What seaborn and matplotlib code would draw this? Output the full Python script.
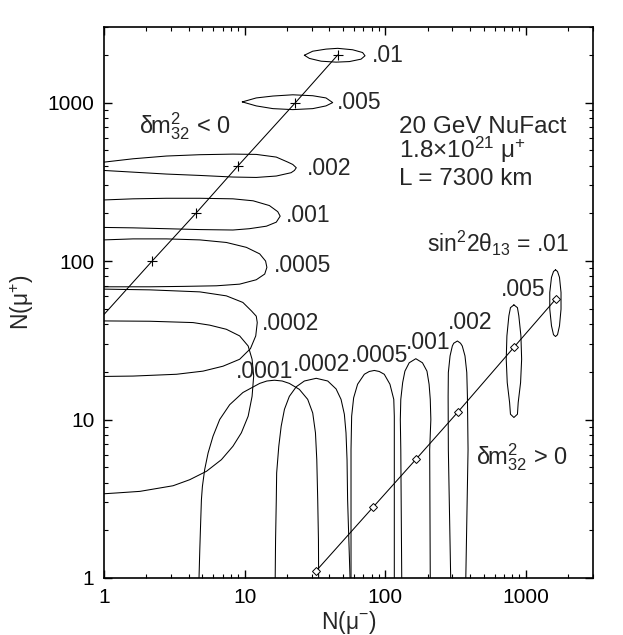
import matplotlib
matplotlib.use("Agg")
import matplotlib.pyplot as plt
import matplotlib.ticker as ticker
import seaborn as sns

# contours for dm^2_32 < 0, (N(mu-), N(mu+))
neg_01_x = [26.6, 30.5, 37.9, 45.9, 58.6, 69.0, 71.8, 67.3, 55.6, 44.7, 35.0, 28.9, 26.6]
neg_01_y = [1990, 2110, 2175, 2200, 2155, 2070, 1975, 1880, 1815, 1800, 1825, 1900, 1990]
neg_005_x = [9.63, 12.1, 15.9, 22.0, 30.5, 37.9, 42.3, 37.9, 30.5, 22.0, 15.9, 12.1, 9.63]
neg_005_y = [1010, 1070, 1100, 1120, 1105, 1070, 1000, 953, 916, 903, 916, 953, 1010]
neg_002_x = [1.0, 1.61, 2.78, 4.80, 8.26, 12.1, 16.8, 20.3, 22.0, 23.3, 22.6, 21.4, 16.8, 12.1, 8.26, 4.80, 2.78, 1.61, 1.0]
neg_002_y = [421, 442, 460, 469, 473, 471, 453, 421, 407, 388, 373, 361, 344, 337, 339, 347, 354, 364, 373]
neg_001_x = [1.0, 1.61, 2.78, 4.80, 8.26, 11.5, 15.0, 17.2, 17.9, 16.8, 14.3, 10.8, 8.26, 4.80, 2.78, 1.61, 1.0]
neg_001_y = [243, 247, 249, 249, 247, 240, 224, 205, 192, 176, 166, 160, 157, 158, 160, 162, 163]
neg_0005_x = [1.0, 1.61, 2.78, 4.80, 7.42, 10.3, 12.8, 14.1, 14.4, 13.9, 12.1, 9.22, 6.30, 3.65, 2.12, 1.0]
neg_0005_y = [136, 138, 138, 136, 131, 122, 111, 100, 91.2, 82.8, 76.2, 71.5, 69.8, 69.2, 68.8, 68.8]
neg_0002_x = [1.0, 2.12, 4.80, 7.42, 9.72, 11.2, 12.1, 12.3, 12.0, 11.0, 9.22, 7.02, 5.06, 3.28, 1.61, 1.0]
neg_0002_y = [66.5, 65.8, 63.9, 60.3, 54.8, 48.4, 44.9, 40.9, 33.7, 28.0, 24.0, 21.7, 20.2, 19.3, 18.8, 18.7]
neg_0001_x = [1.0, 2.12, 4.30, 5.65, 7.42, 9.22, 10.6, 11.3, 11.6, 11.3, 10.6, 9.48, 8.26, 6.84, 5.35, 4.07, 3.10, 1.80, 1.23, 1.0]
neg_0001_y = [41.9, 41.7, 40.9, 39.4, 37.1, 33.7, 29.1, 24.0, 18.8, 14.0, 10.5, 8.24, 6.78, 5.58, 4.71, 4.17, 3.82, 3.52, 3.44, 3.40]

# contours for dm^2_32 > 0
pos_0001_x = [4.74, 4.80, 4.85, 4.93, 5.01, 5.20, 5.50, 5.96, 6.65, 7.83, 9.72, 12.8, 14.4, 16.3,
              18.5, 20.8, 24.5, 28.1, 30.5, 31.9, 32.6, 33.1, 33.5, 33.6]
pos_0001_y = [1.0, 1.50, 2.01, 3.12, 3.78, 4.83, 6.15, 7.84, 10.0, 12.4, 14.8, 16.9, 17.5, 17.7,
              17.5, 16.9, 15.5, 13.4, 11.0, 8.24, 5.58, 3.12, 1.74, 1.0]
pos_0002_x = [16.5, 16.6, 16.8, 16.9, 17.5, 18.2, 19.2, 20.8, 23.3, 26.6, 32.3, 39.0, 44.7, 48.5,
              51.2, 52.6, 53.5, 54.0, 55.1, 56.2]
pos_0002_y = [1.0, 1.74, 3.12, 4.60, 6.78, 9.07, 11.6, 14.0, 16.1, 17.5, 18.2, 17.5, 15.6, 13.4,
              10.8, 8.24, 5.58, 3.12, 1.74, 1.0]
pos_0005_x = [57.1, 57.1, 57.7, 59.6, 63.6, 71.0, 77.0, 83.6, 90.6, 98.4, 108, 115, 116, 116, 116]
pos_0005_y = [1.0, 6.46, 10.5, 13.7, 16.7, 19.3, 20.1, 20.4, 20.1, 19.3, 16.7, 13.4, 10.5, 6.46, 1.0]
pos_001_x = [131, 129, 128, 129, 133, 138, 148, 165, 184, 198, 205, 209, 211, 207, 209]
pos_001_y = [1.0, 6.46, 10.0, 13.4, 17.1, 20.2, 22.8, 24.2, 22.8, 20.2, 16.7, 13.4, 10.0, 6.46, 1.0]
pos_002_x = [292, 281, 280, 281, 289, 300, 307, 326, 343, 353, 369, 380, 384, 388, 374]
pos_002_y = [1.0, 6.46, 14.0, 19.8, 25.2, 29.1, 30.3, 31.3, 30.3, 29.1, 25.2, 19.8, 14.0, 6.46, 1.0]
pos_005_x = [822, 871, 891, 922, 933, 917, 882, 871, 822, 777, 766, 737, 725, 733, 757, 777, 822]
pos_005_y = [52.9, 50.8, 45.1, 33.7, 24.0, 17.1, 12.8, 10.8, 10.3, 10.8, 12.8, 17.1, 24.0, 33.7, 45.1, 50.8, 52.9]
pos_01_x = [1625, 1679, 1734, 1778, 1778, 1734, 1679, 1625, 1572, 1521, 1479, 1479, 1521, 1572, 1625]
pos_01_y = [88.1, 85.9, 78.9, 63.4, 49.7, 39.0, 34.3, 33.4, 34.3, 39.0, 49.7, 63.4, 78.9, 85.9, 88.1]

# best-fit points along each hierarchy
neg_line_x = [1.0, 2.2, 4.5, 9.0, 23, 46]
neg_line_y = [46, 100, 200, 400, 1000, 2000]
pos_line_x = [32, 82, 165, 330, 820, 1630]
pos_line_y = [1.1, 2.8, 5.6, 11.2, 28.5, 57.5]

neg_labels = [".01", ".005", ".002", ".001", ".0005", ".0002", ".0001"]
pos_labels = [".0002", ".0005", ".001", ".002", ".005"]

sns.set_style("ticks")
plt.rcParams["font.family"] = ["Liberation Sans", "DejaVu Sans"]
plt.rcParams["mathtext.fontset"] = "custom"
plt.rcParams["mathtext.rm"] = "Liberation Sans"
plt.rcParams["mathtext.it"] = "Liberation Sans:italic"
plt.rcParams["mathtext.bf"] = "Liberation Sans:bold"

fig = plt.figure(figsize=(6.23, 6.35), dpi=100)
ax = fig.add_axes([0.1669, 0.0898, 0.7849, 0.8677])

contours = [
    (neg_01_x, neg_01_y), (neg_005_x, neg_005_y), (neg_002_x, neg_002_y),
    (neg_001_x, neg_001_y), (neg_0005_x, neg_0005_y), (neg_0002_x, neg_0002_y),
    (neg_0001_x, neg_0001_y),
    (pos_0001_x, pos_0001_y), (pos_0002_x, pos_0002_y), (pos_0005_x, pos_0005_y),
    (pos_001_x, pos_001_y), (pos_002_x, pos_002_y), (pos_005_x, pos_005_y),
    (pos_01_x, pos_01_y),
]
for cx, cy in contours:
    sns.lineplot(x=cx, y=cy, sort=False, estimator=None, color="black", lw=0.75, ax=ax)

sns.lineplot(x=neg_line_x, y=neg_line_y, sort=False, estimator=None, color="black", lw=0.75,
             marker="+", markevery=[1, 2, 3, 4, 5], markersize=7,
             markeredgecolor="black", markeredgewidth=0.8, ax=ax)
sns.lineplot(x=pos_line_x, y=pos_line_y, sort=False, estimator=None, color="black", lw=0.75,
             marker="D", markersize=4.5, markerfacecolor="white",
             markeredgecolor="black", markeredgewidth=0.7, ax=ax)

ax.set_xscale("log")
ax.set_yscale("log")
ax.set_xlim(1, 3000)
ax.set_ylim(1, 3000)

fmt = ticker.FuncFormatter(lambda v, p: f"{v:g}")
for axis in (ax.xaxis, ax.yaxis):
    axis.set_major_locator(ticker.FixedLocator([1, 10, 100, 1000]))
    axis.set_major_formatter(fmt)
    axis.set_minor_locator(ticker.LogLocator(base=10, subs=range(2, 10)))
    axis.set_minor_formatter(ticker.NullFormatter())

ax.tick_params(which="both", direction="in", top=True, right=True, colors="black")
ax.tick_params(which="major", length=5.5, width=1.0, labelsize=15, pad=7)
ax.tick_params(which="minor", length=3, width=0.8)
for s in ax.spines.values():
    s.set_linewidth(1.2)
    s.set_color("black")

ax.set_xlabel(r"N(μ$^{-}$)", fontsize=16.5, labelpad=2)
ax.set_ylabel(r"N(μ$^{+}$)", fontsize=16.5, labelpad=8)

# contour labels, sin^2 2theta_13 values
lab = dict(fontsize=16.5, va="baseline", ha="left")
neg_pos = [(80.9, 1791), (45.1, 907), (27.7, 347), (19.8, 176), (16.1, 84.8), (13.3, 36.7), (8.73, 18.4)]
for t, (tx, ty) in zip(neg_labels, neg_pos):
    ax.text(tx, ty, t, **lab)
pos_pos = [(22.0, 20.2), (57.1, 23.1), (140, 27.7), (281, 37.1), (662, 60.3)]
for t, (tx, ty) in zip(pos_labels, pos_pos):
    ax.text(tx, ty, t, **lab)

ax.text(2018, 114.5, r"sin$^2$2θ$_{13}$ = .01", fontsize=16.5, ha="right", va="baseline")
ax.text(1.78, 637, r"δm$^2_{32}$ < 0", fontsize=17, ha="left", va="baseline")
ax.text(440, 5.2, r"δm$^2_{32}$ > 0", fontsize=17, ha="left", va="baseline")

ax.text(126, 646, "20 GeV NuFact", fontsize=17.5, ha="left", va="baseline")
ax.text(126, 447, r"1.8×10$^{21}$ μ$^{+}$", fontsize=17.5, ha="left", va="baseline")
ax.text(126, 300, "L = 7300 km", fontsize=17.5, ha="left", va="baseline")

fig.savefig("out.png", dpi=100)
